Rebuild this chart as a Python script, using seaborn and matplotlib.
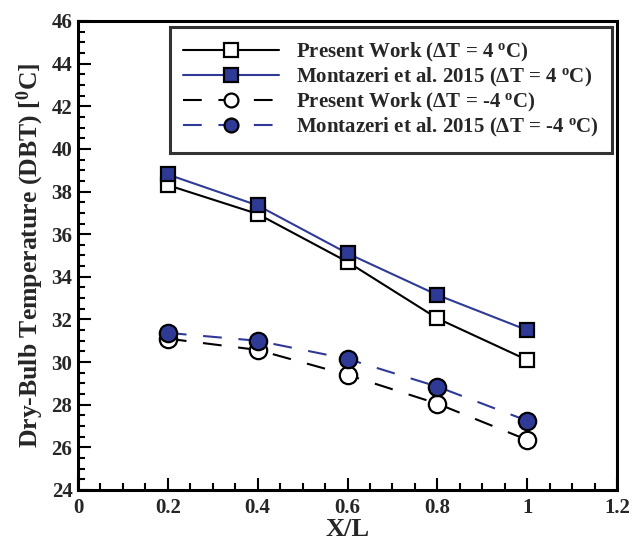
import matplotlib
matplotlib.use("Agg")
import matplotlib.pyplot as plt
import seaborn as sns
import pandas as pd
from matplotlib.ticker import MultipleLocator

x = [0.2, 0.4, 0.6, 0.8, 1.0]
present_pos = [38.3, 36.95, 34.7, 32.05, 30.1]
montazeri_pos = [38.8, 37.35, 35.1, 33.15, 31.5]
present_neg = [31.1, 30.57, 29.4, 28.05, 26.35]
montazeri_neg = [31.37, 31.0, 30.15, 28.85, 27.25]

labels = [r"Present Work ($\mathbf{\Delta}$T = 4 $^{\mathbf{o}}$C)",
          r"Montazeri et al. 2015 ($\mathbf{\Delta}$T = 4 $^{\mathbf{o}}$C)",
          r"Present Work ($\mathbf{\Delta}$T = -4 $^{\mathbf{o}}$C)",
          r"Montazeri et al. 2015 ($\mathbf{\Delta}$T = -4 $^{\mathbf{o}}$C)"]
xtick_labels = ["0", "0.2", "0.4", "0.6", "0.8", "1", "1.2"]

sns.set_style("white")
plt.rcParams['font.family'] = ['Liberation Serif', 'DejaVu Serif']
plt.rcParams['mathtext.fontset'] = 'custom'
plt.rcParams['mathtext.rm'] = 'Liberation Serif:bold'
plt.rcParams['mathtext.bf'] = 'Liberation Serif:bold'
plt.rcParams['mathtext.it'] = 'Liberation Serif:bold'
plt.rcParams['mathtext.default'] = 'bf'

blue = "#2e3a96"
fig = plt.figure(figsize=(6.33, 5.45), dpi=100)
ax = fig.add_axes([78/633, (545-490)/545, 539/633, 469/545])

dash = (0, (9, 8))
series = [
    (present_pos, "black", "-", "s", "white", 10.5),
    (montazeri_pos, blue, "-", "s", blue, 10.5),
    (present_neg, "black", dash, "o", "white", 12.5),
    (montazeri_neg, blue, dash, "o", blue, 12.5),
]
for (vals, c, ls, m, fc, ms), lab in zip(series, labels):
    df = pd.DataFrame({"x": x, "y": vals})
    sns.lineplot(data=df, x="x", y="y", ax=ax, color=c, linestyle=ls, linewidth=1.5,
                 marker=m, markersize=ms, markerfacecolor=fc,
                 markeredgecolor="black", markeredgewidth=1.6, label=lab)

ax.set_xlim(0, 1.2)
ax.set_ylim(24, 46)
ax.set_xticks([0, 0.2, 0.4, 0.6, 0.8, 1.0, 1.2])
ax.set_xticklabels(xtick_labels)
ax.xaxis.set_minor_locator(MultipleLocator(0.05))
ax.yaxis.set_major_locator(MultipleLocator(2))
ax.yaxis.set_minor_locator(MultipleLocator(0.5))
ax.tick_params(which="both", direction="in", bottom=True, left=True, top=False, right=False,
               width=1.5, color="black")
ax.tick_params(which="major", length=9, labelsize=15)
ax.tick_params(which="minor", length=5)
ax.tick_params(axis="x", which="major", pad=6)
ax.tick_params(axis="y", which="major", pad=4)
for t in ax.get_xticklabels() + ax.get_yticklabels():
    t.set_fontweight("bold")
for s in ax.spines.values():
    s.set_linewidth(2.2)
    s.set_color("black")

ax.set_xlabel("X/L", fontsize=19, fontweight="bold", labelpad=0)
ax.set_ylabel(r"Dry-Bulb Temperature (DBT) [$^{\mathbf{0}}$C]", fontsize=18.5,
              fontweight="bold", labelpad=4)

leg = ax.legend(loc="upper right", bbox_to_anchor=(0.991, 0.987), borderaxespad=0,
                frameon=True, fancybox=False, edgecolor="black",
                prop={"weight": "bold", "size": 15}, handlelength=4.6,
                borderpad=0.65, labelspacing=0.1, handletextpad=0.8)
leg.get_frame().set_linewidth(2.2)
for h in leg.legend_handles:
    h.set_markersize(10)

fig.savefig("out.png", dpi=100)
